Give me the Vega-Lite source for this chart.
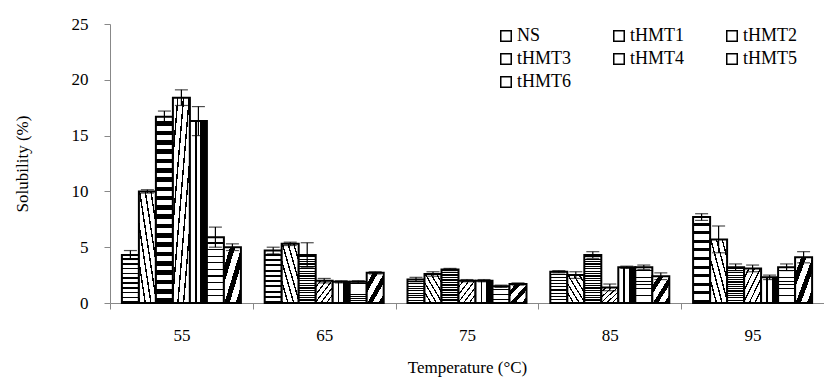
{
  "$schema": "https://vega.github.io/schema/vega-lite/v6.json",
  "autosize": "none",
  "width": 714,
  "height": 279,
  "padding": {"left": 110, "top": 24, "right": 0, "bottom": 77},
  "background": "white",
  "config": {
    "view": {"stroke": null},
    "font": "Liberation Serif"
  },
  "data": {
    "values": [
      {"temp": "55", "series": "NS", "value": 4.3, "err": 0.4},
      {"temp": "55", "series": "tHMT1", "value": 10.0, "err": 0.15},
      {"temp": "55", "series": "tHMT2", "value": 16.7, "err": 0.5},
      {"temp": "55", "series": "tHMT3", "value": 18.4, "err": 0.7},
      {"temp": "55", "series": "tHMT4", "value": 16.3, "err": 1.3},
      {"temp": "55", "series": "tHMT5", "value": 5.9, "err": 0.9},
      {"temp": "55", "series": "tHMT6", "value": 5.0, "err": 0.3},
      {"temp": "65", "series": "NS", "value": 4.7, "err": 0.3},
      {"temp": "65", "series": "tHMT1", "value": 5.3, "err": 0.15},
      {"temp": "65", "series": "tHMT2", "value": 4.3, "err": 1.1},
      {"temp": "65", "series": "tHMT3", "value": 2.0, "err": 0.2},
      {"temp": "65", "series": "tHMT4", "value": 1.9, "err": 0.1},
      {"temp": "65", "series": "tHMT5", "value": 1.9, "err": 0.1},
      {"temp": "65", "series": "tHMT6", "value": 2.7, "err": 0.1},
      {"temp": "75", "series": "NS", "value": 2.1, "err": 0.2},
      {"temp": "75", "series": "tHMT1", "value": 2.6, "err": 0.2},
      {"temp": "75", "series": "tHMT2", "value": 3.0, "err": 0.1},
      {"temp": "75", "series": "tHMT3", "value": 2.0, "err": 0.1},
      {"temp": "75", "series": "tHMT4", "value": 2.0, "err": 0.1},
      {"temp": "75", "series": "tHMT5", "value": 1.5, "err": 0.1},
      {"temp": "75", "series": "tHMT6", "value": 1.7, "err": 0.1},
      {"temp": "85", "series": "NS", "value": 2.8, "err": 0.1},
      {"temp": "85", "series": "tHMT1", "value": 2.5, "err": 0.3},
      {"temp": "85", "series": "tHMT2", "value": 4.3, "err": 0.3},
      {"temp": "85", "series": "tHMT3", "value": 1.4, "err": 0.3},
      {"temp": "85", "series": "tHMT4", "value": 3.2, "err": 0.1},
      {"temp": "85", "series": "tHMT5", "value": 3.2, "err": 0.2},
      {"temp": "85", "series": "tHMT6", "value": 2.4, "err": 0.3},
      {"temp": "95", "series": "NS", "value": 7.7, "err": 0.3},
      {"temp": "95", "series": "tHMT1", "value": 5.7, "err": 1.2},
      {"temp": "95", "series": "tHMT2", "value": 3.2, "err": 0.3},
      {"temp": "95", "series": "tHMT3", "value": 3.1, "err": 0.3},
      {"temp": "95", "series": "tHMT4", "value": 2.3, "err": 0.2},
      {"temp": "95", "series": "tHMT5", "value": 3.2, "err": 0.3},
      {"temp": "95", "series": "tHMT6", "value": 4.1, "err": 0.5}
    ]
  },
  "encoding": {
    "x": {
      "field": "temp",
      "type": "nominal",
      "scale": {"paddingInner": 0, "paddingOuter": 0},
      "axis": {
        "title": "Temperature (\u00b0C)",
        "labelAngle": 0,
        "tickBand": "extent",
        "tickSize": 6,
        "tickColor": "#888888",
        "domainColor": "#888888",
        "labelFont": "Liberation Serif",
        "labelFontSize": 17,
        "labelColor": "#000000",
        "labelPadding": 18,
        "titleFont": "Liberation Serif",
        "titleFontSize": 17,
        "titleFontWeight": "normal",
        "titleColor": "#000000",
        "titlePadding": 16
      }
    },
    "xOffset": {
      "field": "series",
      "type": "nominal",
      "scale": {"paddingInner": 0, "paddingOuter": 0.7}
    }
  },
  "layer": [
    {
      "mark": {"type": "bar", "stroke": "#000000", "strokeWidth": 2},
      "encoding": {
        "y": {
          "field": "value",
          "type": "quantitative",
          "title": "Solubility  (%)",
          "scale": {"domain": [0, 25], "nice": false},
          "axis": {
            "title": "Solubility  (%)",
            "values": [0, 5, 10, 15, 20, 25],
            "grid": false,
            "tickSize": 6,
            "tickColor": "#888888",
            "domainColor": "#888888",
            "labelFont": "Liberation Serif",
            "labelFontSize": 17,
            "labelColor": "#000000",
            "labelPadding": 16,
            "titleFont": "Liberation Serif",
            "titleFontSize": 17,
            "titleFontWeight": "normal",
            "titleColor": "#000000",
            "titlePadding": 40
          }
        },
        "fill": {
          "condition": [
            {"test": "datum.series === 'NS'", "value": {"gradient": "linear", "x1": 0, "y1": 0, "x2": 0, "y2": 1, "stops": [
                {"offset": 0, "color": "white"}, {"offset": 0.065, "color": "white"}, {"offset": 0.065, "color": "black"}, {"offset": 0.1, "color": "black"},
                {"offset": 0.1, "color": "white"}, {"offset": 0.165, "color": "white"}, {"offset": 0.165, "color": "black"}, {"offset": 0.2, "color": "black"},
                {"offset": 0.2, "color": "white"}, {"offset": 0.265, "color": "white"}, {"offset": 0.265, "color": "black"}, {"offset": 0.3, "color": "black"},
                {"offset": 0.3, "color": "white"}, {"offset": 0.365, "color": "white"}, {"offset": 0.365, "color": "black"}, {"offset": 0.4, "color": "black"},
                {"offset": 0.4, "color": "white"}, {"offset": 0.465, "color": "white"}, {"offset": 0.465, "color": "black"}, {"offset": 0.5, "color": "black"},
                {"offset": 0.5, "color": "white"}, {"offset": 0.565, "color": "white"}, {"offset": 0.565, "color": "black"}, {"offset": 0.6, "color": "black"},
                {"offset": 0.6, "color": "white"}, {"offset": 0.665, "color": "white"}, {"offset": 0.665, "color": "black"}, {"offset": 0.7, "color": "black"},
                {"offset": 0.7, "color": "white"}, {"offset": 0.765, "color": "white"}, {"offset": 0.765, "color": "black"}, {"offset": 0.8, "color": "black"},
                {"offset": 0.8, "color": "white"}, {"offset": 0.865, "color": "white"}, {"offset": 0.865, "color": "black"}, {"offset": 0.9, "color": "black"},
                {"offset": 0.9, "color": "white"}, {"offset": 0.965, "color": "white"}, {"offset": 0.965, "color": "black"}, {"offset": 1, "color": "black"}
              ]}},
            {"test": "datum.series === 'tHMT1'", "value": {"gradient": "linear", "x1": 1, "y1": 0, "x2": 0, "y2": 1, "stops": [
                {"offset": 0, "color": "white"}, {"offset": 0.125, "color": "white"}, {"offset": 0.125, "color": "black"}, {"offset": 0.1667, "color": "black"},
                {"offset": 0.1667, "color": "white"}, {"offset": 0.2917, "color": "white"}, {"offset": 0.2917, "color": "black"}, {"offset": 0.3333, "color": "black"},
                {"offset": 0.3333, "color": "white"}, {"offset": 0.4583, "color": "white"}, {"offset": 0.4583, "color": "black"}, {"offset": 0.5, "color": "black"},
                {"offset": 0.5, "color": "white"}, {"offset": 0.625, "color": "white"}, {"offset": 0.625, "color": "black"}, {"offset": 0.6667, "color": "black"},
                {"offset": 0.6667, "color": "white"}, {"offset": 0.7917, "color": "white"}, {"offset": 0.7917, "color": "black"}, {"offset": 0.8333, "color": "black"},
                {"offset": 0.8333, "color": "white"}, {"offset": 0.9583, "color": "white"}, {"offset": 0.9583, "color": "black"}, {"offset": 1, "color": "black"}
              ]}},
            {"test": "datum.series === 'tHMT2'", "value": {"gradient": "linear", "x1": 0, "y1": 0, "x2": 0, "y2": 1, "stops": [
                {"offset": 0, "color": "white"}, {"offset": 0.025, "color": "white"}, {"offset": 0.025, "color": "black"}, {"offset": 0.05, "color": "black"},
                {"offset": 0.05, "color": "white"}, {"offset": 0.075, "color": "white"}, {"offset": 0.075, "color": "black"}, {"offset": 0.1, "color": "black"},
                {"offset": 0.1, "color": "white"}, {"offset": 0.125, "color": "white"}, {"offset": 0.125, "color": "black"}, {"offset": 0.15, "color": "black"},
                {"offset": 0.15, "color": "white"}, {"offset": 0.175, "color": "white"}, {"offset": 0.175, "color": "black"}, {"offset": 0.2, "color": "black"},
                {"offset": 0.2, "color": "white"}, {"offset": 0.225, "color": "white"}, {"offset": 0.225, "color": "black"}, {"offset": 0.25, "color": "black"},
                {"offset": 0.25, "color": "white"}, {"offset": 0.275, "color": "white"}, {"offset": 0.275, "color": "black"}, {"offset": 0.3, "color": "black"},
                {"offset": 0.3, "color": "white"}, {"offset": 0.325, "color": "white"}, {"offset": 0.325, "color": "black"}, {"offset": 0.35, "color": "black"},
                {"offset": 0.35, "color": "white"}, {"offset": 0.375, "color": "white"}, {"offset": 0.375, "color": "black"}, {"offset": 0.4, "color": "black"},
                {"offset": 0.4, "color": "white"}, {"offset": 0.425, "color": "white"}, {"offset": 0.425, "color": "black"}, {"offset": 0.45, "color": "black"},
                {"offset": 0.45, "color": "white"}, {"offset": 0.475, "color": "white"}, {"offset": 0.475, "color": "black"}, {"offset": 0.5, "color": "black"},
                {"offset": 0.5, "color": "white"}, {"offset": 0.525, "color": "white"}, {"offset": 0.525, "color": "black"}, {"offset": 0.55, "color": "black"},
                {"offset": 0.55, "color": "white"}, {"offset": 0.575, "color": "white"}, {"offset": 0.575, "color": "black"}, {"offset": 0.6, "color": "black"},
                {"offset": 0.6, "color": "white"}, {"offset": 0.625, "color": "white"}, {"offset": 0.625, "color": "black"}, {"offset": 0.65, "color": "black"},
                {"offset": 0.65, "color": "white"}, {"offset": 0.675, "color": "white"}, {"offset": 0.675, "color": "black"}, {"offset": 0.7, "color": "black"},
                {"offset": 0.7, "color": "white"}, {"offset": 0.725, "color": "white"}, {"offset": 0.725, "color": "black"}, {"offset": 0.75, "color": "black"},
                {"offset": 0.75, "color": "white"}, {"offset": 0.775, "color": "white"}, {"offset": 0.775, "color": "black"}, {"offset": 0.8, "color": "black"},
                {"offset": 0.8, "color": "white"}, {"offset": 0.825, "color": "white"}, {"offset": 0.825, "color": "black"}, {"offset": 0.85, "color": "black"},
                {"offset": 0.85, "color": "white"}, {"offset": 0.875, "color": "white"}, {"offset": 0.875, "color": "black"}, {"offset": 0.9, "color": "black"},
                {"offset": 0.9, "color": "white"}, {"offset": 0.925, "color": "white"}, {"offset": 0.925, "color": "black"}, {"offset": 0.95, "color": "black"},
                {"offset": 0.95, "color": "white"}, {"offset": 0.975, "color": "white"}, {"offset": 0.975, "color": "black"}, {"offset": 1, "color": "black"}
              ]}},
            {"test": "datum.series === 'tHMT3'", "value": {"gradient": "linear", "x1": 0, "y1": 0, "x2": 1, "y2": 1, "stops": [
                {"offset": 0, "color": "white"}, {"offset": 0.125, "color": "white"}, {"offset": 0.125, "color": "black"}, {"offset": 0.1667, "color": "black"},
                {"offset": 0.1667, "color": "white"}, {"offset": 0.2917, "color": "white"}, {"offset": 0.2917, "color": "black"}, {"offset": 0.3333, "color": "black"},
                {"offset": 0.3333, "color": "white"}, {"offset": 0.4583, "color": "white"}, {"offset": 0.4583, "color": "black"}, {"offset": 0.5, "color": "black"},
                {"offset": 0.5, "color": "white"}, {"offset": 0.625, "color": "white"}, {"offset": 0.625, "color": "black"}, {"offset": 0.6667, "color": "black"},
                {"offset": 0.6667, "color": "white"}, {"offset": 0.7917, "color": "white"}, {"offset": 0.7917, "color": "black"}, {"offset": 0.8333, "color": "black"},
                {"offset": 0.8333, "color": "white"}, {"offset": 0.9583, "color": "white"}, {"offset": 0.9583, "color": "black"}, {"offset": 1, "color": "black"}
              ]}},
            {"test": "datum.series === 'tHMT4'", "value": {"gradient": "linear", "x1": 0, "y1": 0, "x2": 1, "y2": 0, "stops": [
                {"offset": 0, "color": "white"}, {"offset": 0.3, "color": "white"}, {"offset": 0.3, "color": "black"}, {"offset": 0.4, "color": "black"},
                {"offset": 0.4, "color": "white"}, {"offset": 0.62, "color": "white"}, {"offset": 0.62, "color": "black"}, {"offset": 1, "color": "black"}
              ]}},
            {"test": "datum.series === 'tHMT5'", "value": {"gradient": "linear", "x1": 0, "y1": 0, "x2": 0, "y2": 1, "stops": [
                {"offset": 0, "color": "white"}, {"offset": 0.08, "color": "white"}, {"offset": 0.08, "color": "black"}, {"offset": 0.1, "color": "black"},
                {"offset": 0.1, "color": "white"}, {"offset": 0.18, "color": "white"}, {"offset": 0.18, "color": "black"}, {"offset": 0.2, "color": "black"},
                {"offset": 0.2, "color": "white"}, {"offset": 0.28, "color": "white"}, {"offset": 0.28, "color": "black"}, {"offset": 0.3, "color": "black"},
                {"offset": 0.3, "color": "white"}, {"offset": 0.38, "color": "white"}, {"offset": 0.38, "color": "black"}, {"offset": 0.4, "color": "black"},
                {"offset": 0.4, "color": "white"}, {"offset": 0.48, "color": "white"}, {"offset": 0.48, "color": "black"}, {"offset": 0.5, "color": "black"},
                {"offset": 0.5, "color": "white"}, {"offset": 0.58, "color": "white"}, {"offset": 0.58, "color": "black"}, {"offset": 0.6, "color": "black"},
                {"offset": 0.6, "color": "white"}, {"offset": 0.68, "color": "white"}, {"offset": 0.68, "color": "black"}, {"offset": 0.7, "color": "black"},
                {"offset": 0.7, "color": "white"}, {"offset": 0.78, "color": "white"}, {"offset": 0.78, "color": "black"}, {"offset": 0.8, "color": "black"},
                {"offset": 0.8, "color": "white"}, {"offset": 0.88, "color": "white"}, {"offset": 0.88, "color": "black"}, {"offset": 0.9, "color": "black"},
                {"offset": 0.9, "color": "white"}, {"offset": 0.98, "color": "white"}, {"offset": 0.98, "color": "black"}, {"offset": 1, "color": "black"}
              ]}},
            {"test": "datum.series === 'tHMT6'", "value": {"gradient": "linear", "x1": 0, "y1": 0, "x2": 1, "y2": 1, "stops": [
                {"offset": 0, "color": "white"}, {"offset": 0.18, "color": "white"}, {"offset": 0.18, "color": "black"}, {"offset": 0.3333, "color": "black"},
                {"offset": 0.3333, "color": "white"}, {"offset": 0.5133, "color": "white"}, {"offset": 0.5133, "color": "black"}, {"offset": 0.6667, "color": "black"},
                {"offset": 0.6667, "color": "white"}, {"offset": 0.8467, "color": "white"}, {"offset": 0.8467, "color": "black"}, {"offset": 1, "color": "black"}
              ]}}
          ],
          "value": "white"
        }
      }
    },
    {
      "mark": {
        "type": "errorbar",
        "ticks": {"size": 13, "thickness": 1.2, "color": "black"},
        "rule": {"color": "black", "strokeWidth": 1.2}
      },
      "encoding": {
        "y": {"field": "value", "type": "quantitative", "title": "Solubility  (%)"},
        "yError": {"field": "err"}
      }
    },
    {
      "mark": {"type": "point", "opacity": 0, "size": 1},
      "encoding": {
        "y": {"field": "value", "type": "quantitative", "title": "Solubility  (%)"},
        "stroke": {
          "field": "series",
          "type": "nominal",
          "scale": {
            "domain": ["NS", "tHMT1", "tHMT2", "tHMT3", "tHMT4", "tHMT5", "tHMT6"],
            "range": ["#000000", "#000000", "#000000", "#000000", "#000000", "#000000", "#000000"]
          },
          "legend": {
            "title": null,
            "orient": "none",
            "legendX": 387,
            "legendY": 3,
            "direction": "horizontal",
            "columns": 3,
            "columnPadding": 39,
            "rowPadding": 5,
            "symbolType": "square",
            "symbolSize": 110,
            "symbolOpacity": 1,
            "symbolStrokeWidth": 1.5,
            "labelFont": "Liberation Serif",
            "labelFontSize": 18,
            "labelColor": "#000000",
            "labelOffset": 2,
            "encode": {
              "symbols": {
                "update": {
                  "fill": {
                    "condition": [
                      {"test": "datum.value === 'NS'", "value": {"gradient": "linear", "x1": 0, "y1": 0, "x2": 0, "y2": 1, "stops": [
                        {"offset": 0, "color": "white"}, {"offset": 0.3, "color": "white"}, {"offset": 0.3, "color": "black"}, {"offset": 0.45, "color": "black"},
                        {"offset": 0.45, "color": "white"}, {"offset": 0.7, "color": "white"}, {"offset": 0.7, "color": "black"}, {"offset": 1, "color": "black"}
                      ]}},
                      {"test": "datum.value === 'tHMT1'", "value": {"gradient": "linear", "x1": 1, "y1": 0, "x2": 0, "y2": 1, "stops": [
                        {"offset": 0, "color": "white"}, {"offset": 0.4, "color": "white"}, {"offset": 0.4, "color": "black"}, {"offset": 0.6, "color": "black"},
                        {"offset": 0.6, "color": "white"}, {"offset": 1, "color": "white"}
                      ]}},
                      {"test": "datum.value === 'tHMT2'", "value": {"gradient": "linear", "x1": 0, "y1": 0, "x2": 0, "y2": 1, "stops": [
                        {"offset": 0, "color": "black"}, {"offset": 0.4, "color": "black"}, {"offset": 0.4, "color": "white"}, {"offset": 0.6, "color": "white"},
                        {"offset": 0.6, "color": "black"}, {"offset": 1, "color": "black"}
                      ]}},
                      {"test": "datum.value === 'tHMT3'", "value": {"gradient": "linear", "x1": 0, "y1": 0, "x2": 1, "y2": 1, "stops": [
                        {"offset": 0, "color": "white"}, {"offset": 0.4, "color": "white"}, {"offset": 0.4, "color": "black"}, {"offset": 0.6, "color": "black"},
                        {"offset": 0.6, "color": "white"}, {"offset": 1, "color": "white"}
                      ]}},
                      {"test": "datum.value === 'tHMT4'", "value": {"gradient": "linear", "x1": 0, "y1": 0, "x2": 1, "y2": 0, "stops": [
                        {"offset": 0, "color": "black"}, {"offset": 0.3, "color": "black"}, {"offset": 0.3, "color": "white"}, {"offset": 0.55, "color": "white"},
                        {"offset": 0.55, "color": "black"}, {"offset": 1, "color": "black"}
                      ]}},
                      {"test": "datum.value === 'tHMT5'", "value": {"gradient": "linear", "x1": 0, "y1": 0, "x2": 0, "y2": 1, "stops": [
                        {"offset": 0, "color": "white"}, {"offset": 0.6, "color": "white"}, {"offset": 0.6, "color": "black"}, {"offset": 1, "color": "black"}
                      ]}},
                      {"test": "datum.value === 'tHMT6'", "value": {"gradient": "linear", "x1": 0, "y1": 0, "x2": 1, "y2": 1, "stops": [
                        {"offset": 0, "color": "white"}, {"offset": 0.5, "color": "white"}, {"offset": 0.5, "color": "black"}, {"offset": 1, "color": "black"}
                      ]}}
                    ],
                    "value": "white"
                  },
                  "opacity": {"value": 1}
                }
              }
            }
          }
        }
      }
    }
  ]
}
